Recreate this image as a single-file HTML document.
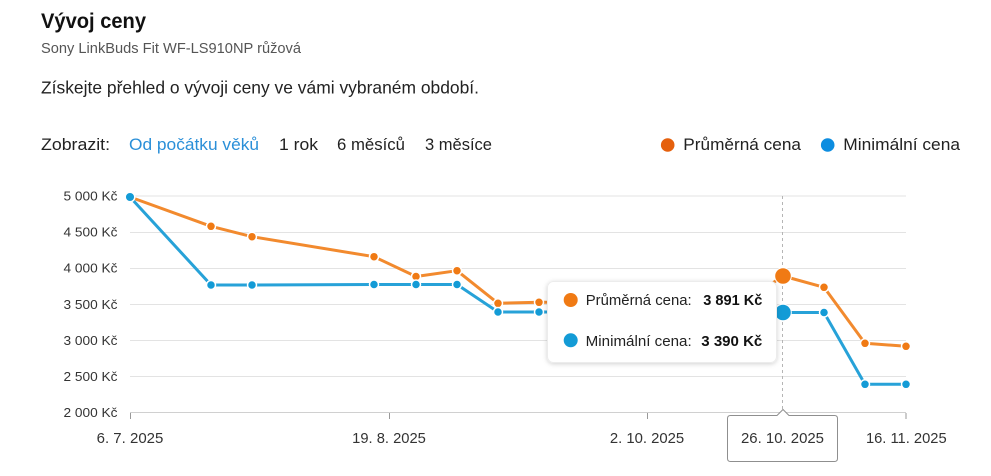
<!DOCTYPE html>
<html><head><meta charset="utf-8"><style>
html,body{margin:0;padding:0;background:#fff;}
svg{display:block;}
text{font-family:"Liberation Sans",Arial,sans-serif;}
</style></head><body>
<svg width="991" height="476" viewBox="0 0 991 476" xmlns="http://www.w3.org/2000/svg">
<defs>
<filter id="sh" x="-20%" y="-30%" width="140%" height="160%">
<feDropShadow dx="0" dy="1" stdDeviation="2.5" flood-color="#000" flood-opacity="0.18"/>
</filter>
</defs>
<rect width="991" height="476" fill="#fff"/>
<!-- header -->
<text x="41" y="28" font-size="21" font-weight="bold" fill="#111" textLength="105" lengthAdjust="spacingAndGlyphs">Vývoj ceny</text>
<text x="41" y="53" font-size="14.8" fill="#555" textLength="260" lengthAdjust="spacingAndGlyphs">Sony LinkBuds Fit WF-LS910NP růžová</text>
<text x="41" y="93.5" font-size="17.5" fill="#222" textLength="438" lengthAdjust="spacingAndGlyphs">Získejte přehled o vývoji ceny ve vámi vybraném období.</text>
<text x="41" y="150" font-size="17" fill="#222" textLength="69" lengthAdjust="spacingAndGlyphs">Zobrazit:</text>
<text x="129" y="150" font-size="17" fill="#2a8fd8" textLength="130" lengthAdjust="spacingAndGlyphs">Od počátku věků</text>
<text x="279" y="150" font-size="17" fill="#222" textLength="39" lengthAdjust="spacingAndGlyphs">1 rok</text>
<text x="337" y="150" font-size="17" fill="#222" textLength="68" lengthAdjust="spacingAndGlyphs">6 měsíců</text>
<text x="425" y="150" font-size="17" fill="#222" textLength="67" lengthAdjust="spacingAndGlyphs">3 měsíce</text>
<!-- legend -->
<circle cx="667.7" cy="145" r="6.8" fill="#e5600d"/>
<text x="683.3" y="150" font-size="17" fill="#222" textLength="117.7" lengthAdjust="spacingAndGlyphs">Průměrná cena</text>
<circle cx="827.7" cy="145" r="6.8" fill="#0d8de0"/>
<text x="843.3" y="150" font-size="17" fill="#222" textLength="116.7" lengthAdjust="spacingAndGlyphs">Minimální cena</text>
<!-- grid -->
<g stroke="#e3e3e3" stroke-width="1">
<line x1="130" y1="196" x2="906" y2="196"/>
<line x1="130" y1="232.5" x2="906" y2="232.5"/>
<line x1="130" y1="268.5" x2="906" y2="268.5"/>
<line x1="130" y1="304.5" x2="906" y2="304.5"/>
<line x1="130" y1="340.5" x2="906" y2="340.5"/>
<line x1="130" y1="376.5" x2="906" y2="376.5"/>
</g>
<line x1="130" y1="412.5" x2="906" y2="412.5" stroke="#d0d0d0" stroke-width="1"/>
<g stroke="#999" stroke-width="1">
<line x1="130.5" y1="413" x2="130.5" y2="419"/>
<line x1="389.5" y1="413" x2="389.5" y2="419"/>
<line x1="647.5" y1="413" x2="647.5" y2="419"/>
<line x1="906" y1="413" x2="906" y2="419"/>
</g>
<!-- y labels -->
<g font-size="13" fill="#333" text-anchor="end">
<text x="117.5" y="200.5" textLength="54" lengthAdjust="spacingAndGlyphs">5 000 Kč</text>
<text x="117.5" y="236.5" textLength="54" lengthAdjust="spacingAndGlyphs">4 500 Kč</text>
<text x="117.5" y="272.7" textLength="54" lengthAdjust="spacingAndGlyphs">4 000 Kč</text>
<text x="117.5" y="308.8" textLength="54" lengthAdjust="spacingAndGlyphs">3 500 Kč</text>
<text x="117.5" y="344.9" textLength="54" lengthAdjust="spacingAndGlyphs">3 000 Kč</text>
<text x="117.5" y="381" textLength="54" lengthAdjust="spacingAndGlyphs">2 500 Kč</text>
<text x="117.5" y="417" textLength="54" lengthAdjust="spacingAndGlyphs">2 000 Kč</text>
</g>
<!-- x labels -->
<g font-size="15" fill="#333" text-anchor="middle">
<text x="130" y="443" textLength="66.7" lengthAdjust="spacingAndGlyphs">6. 7. 2025</text>
<text x="389" y="443" textLength="73.7" lengthAdjust="spacingAndGlyphs">19. 8. 2025</text>
<text x="647" y="443" textLength="74.3" lengthAdjust="spacingAndGlyphs">2. 10. 2025</text>
<text x="906.3" y="443" textLength="80.7" lengthAdjust="spacingAndGlyphs">16. 11. 2025</text>
</g>
<!-- crosshair -->
<line x1="782.5" y1="196" x2="782.5" y2="410" stroke="#b5b5b5" stroke-width="1" stroke-dasharray="3,3"/>
<!-- orange series -->
<polyline fill="none" stroke="#f28a2e" stroke-width="3" stroke-linejoin="round" points="130,197 211,226.3 252,236.7 374,256.7 416,276.5 457,270.7 498,303.3 539,302.3 580,302.3 621,302.3 662,302.3 703,302.3 744,302.3 783,276 824,287.3 865,343.3 906,346.3"/>
<g fill="#f07a14" stroke="#fff" stroke-width="1.5">
<circle cx="211" cy="226.3" r="4.5"/>
<circle cx="252" cy="236.7" r="4.5"/>
<circle cx="374" cy="256.7" r="4.5"/>
<circle cx="416" cy="276.5" r="4.5"/>
<circle cx="457" cy="270.7" r="4.5"/>
<circle cx="498" cy="303.3" r="4.5"/>
<circle cx="539" cy="302.3" r="4.5"/>
<circle cx="824" cy="287.3" r="4.5"/>
<circle cx="865" cy="343.3" r="4.5"/>
<circle cx="906" cy="346.3" r="4.5"/>
</g>
<!-- blue series -->
<polyline fill="none" stroke="#27a2d8" stroke-width="3" stroke-linejoin="round" points="130,197 211,285 252,285 374,284.5 416,284.5 457,284.5 498,312 539,312 580,312 621,312 662,312 703,312 744,312 783,312.5 824,312.5 865,384.3 906,384.3"/>
<g fill="#139bd6" stroke="#fff" stroke-width="1.5">
<circle cx="130" cy="197" r="4.8"/>
<circle cx="211" cy="285" r="4.5"/>
<circle cx="252" cy="285" r="4.5"/>
<circle cx="374" cy="284.5" r="4.5"/>
<circle cx="416" cy="284.5" r="4.5"/>
<circle cx="457" cy="284.5" r="4.5"/>
<circle cx="498" cy="312" r="4.5"/>
<circle cx="539" cy="312" r="4.5"/>
<circle cx="824" cy="312.5" r="4.5"/>
<circle cx="865" cy="384.3" r="4.5"/>
<circle cx="906" cy="384.3" r="4.5"/>
</g>
<!-- hover dots -->
<circle cx="783" cy="276" r="8.3" fill="#f07a14" stroke="#fff" stroke-width="1"/>
<circle cx="783" cy="312.5" r="8.3" fill="#139bd6" stroke="#fff" stroke-width="1"/>
<!-- tooltip -->
<rect x="547.5" y="281.5" width="229" height="81" rx="6" fill="#fff" stroke="#ececec" stroke-width="1" filter="url(#sh)"/>
<circle cx="570.7" cy="300" r="7" fill="#f07a14"/>
<text x="585.7" y="305" font-size="15" fill="#222" textLength="106" lengthAdjust="spacingAndGlyphs">Průměrná cena:</text>
<text x="703.3" y="305" font-size="15" font-weight="bold" fill="#111" textLength="59" lengthAdjust="spacingAndGlyphs">3 891 Kč</text>
<circle cx="570.7" cy="340.3" r="7" fill="#139bd6"/>
<text x="585.7" y="346" font-size="15" fill="#222" textLength="106" lengthAdjust="spacingAndGlyphs">Minimální cena:</text>
<text x="701.3" y="346" font-size="15" font-weight="bold" fill="#111" textLength="61" lengthAdjust="spacingAndGlyphs">3 390 Kč</text>
<!-- x crosshair label -->
<path d="M730.5,415.5 L777,415.5 L783,409.5 L789,415.5 L834.5,415.5 Q837.5,415.5 837.5,418.5 L837.5,458.5 Q837.5,461.5 834.5,461.5 L730.5,461.5 Q727.5,461.5 727.5,458.5 L727.5,418.5 Q727.5,415.5 730.5,415.5 Z" fill="#fff" stroke="#8f8f8f" stroke-width="1"/>
<text x="782.5" y="443" font-size="15" fill="#333" text-anchor="middle" textLength="83" lengthAdjust="spacingAndGlyphs">26. 10. 2025</text>
</svg>
</body></html>
